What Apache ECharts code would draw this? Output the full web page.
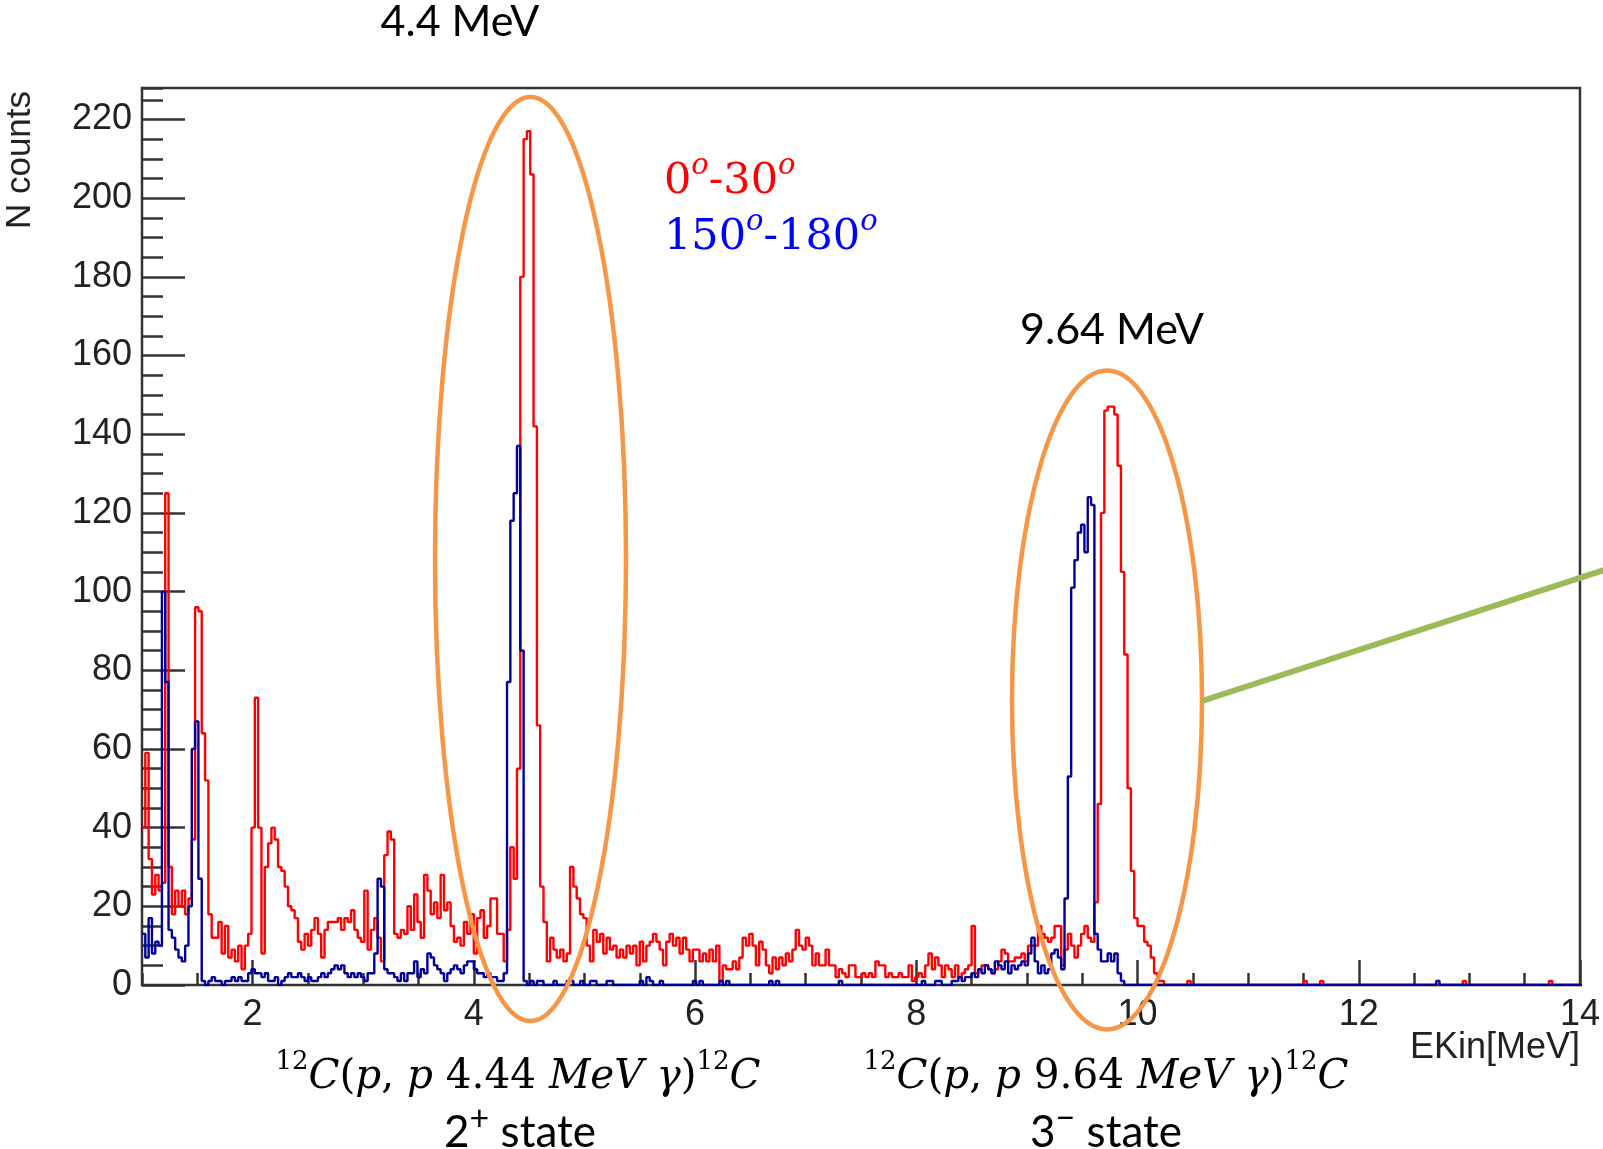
<!DOCTYPE html>
<html>
<head>
<meta charset="utf-8">
<script src="https://cdn.jsdelivr.net/npm/echarts@6/dist/echarts.min.js"></script>
<style>
html,body{margin:0;padding:0;background:#fff;}
#c{width:1603px;height:1149px;}
</style>
</head>
<body>
<div id="c"></div>
<script>
// Histogram binning (EKin in MeV)
const BIN_START = 1.0;
const BIN_WIDTH = 0.03;

// 0°-30° counts per bin (red)
const red0to30 = [
 40,59,32,23,28,24,26,125,30,18,
 24,20,24,18,22,37,96,95,64,52,
 18,12,12,16,8,15,7,9,6,10,
 4,10,13,40,73,40,8,30,36,40,
 37,30,29,25,20,19,17,11,9,13,
 10,14,17,13,7,14,16,16,16,17,
 14,17,16,19,14,12,11,24,9,14,
 17,12,6,33,39,37,13,12,14,13,
 20,14,23,16,12,28,24,18,21,17,
 28,19,21,15,11,12,10,16,13,18,
 8,17,19,12,15,22,22,13,13,6,
 14,35,27,55,180,215,217,206,142,66,
 25,16,6,12,9,7,9,6,8,30,
 25,22,18,17,10,6,14,11,13,8,
 12,9,10,7,9,7,10,8,10,5,
 11,6,10,11,13,11,9,5,11,13,
 10,12,8,12,9,6,9,9,6,8,
 6,9,6,10,1,5,4,4,6,4,
 7,12,10,13,10,5,11,9,5,3,
 7,4,7,5,8,6,9,14,10,9,
 12,10,5,8,5,5,9,5,5,2,
 4,3,2,5,5,2,2,3,2,3,
 2,6,5,5,2,3,2,2,3,2,
 2,5,1,2,3,2,5,8,4,7,
 5,2,5,4,2,5,2,3,4,5,
 15,3,4,5,5,4,3,4,6,9,
 8,6,6,7,7,8,6,10,10,10,
 15,13,12,11,12,15,15,5,9,13,
 10,7,10,13,15,12,11,21,46,120,
 146,147,147,145,132,105,84,50,29,17,
 15,15,11,10,7,3,1,1,0,0,
 0,0,0,0,0,1,0,0,0,0,
 0,0,0,0,0,0,0,0,0,0,
 0,0,0,0,0,0,0,0,0,0,
 0,0,0,0,0,0,0,0,0,0,
 1,0,0,0,0,1,0,0,0,0,
 0,0,0,0,0,0,0,0,0,0,
 0,0,0,0,0,0,0,0,0,0,
 0,0,0,0,0,0,0,0,0,0,
 0,0,0,0,0,0,0,0,1,0,
 0,0,0,0,0,0,0,0,0,0,
 0,0,0,0,0,0,0,0,0,0,
 0,0,0,0,1,0,0,0,0,0,
 0,0,0,0
];

// 150°-180° counts per bin (blue)
const blue150to180 = [
 13,7,17,8,11,10,100,77,14,12,
 9,7,6,10,20,60,67,27,1,0,
 1,2,1,1,0,1,1,2,1,2,
 1,1,3,4,3,3,2,3,1,1,
 2,0,1,2,3,2,2,3,2,1,
 2,1,1,2,3,2,3,4,5,4,
 5,3,2,3,2,3,2,1,3,3,
 8,27,25,4,3,3,2,1,3,1,
 3,3,6,2,4,3,8,7,5,4,
 3,1,3,4,5,4,3,5,6,6,
 4,3,3,2,3,2,2,1,1,3,
 77,118,125,137,85,1,0,1,0,1,
 1,0,0,0,1,0,0,0,1,1,
 0,0,1,0,0,1,1,0,0,0,
 1,1,0,0,0,0,0,0,0,0,
 1,0,2,1,0,0,1,0,0,0,
 0,0,0,0,0,0,1,0,1,0,
 0,0,0,0,1,0,1,0,0,0,
 0,0,0,0,0,0,0,0,0,1,
 0,1,0,0,0,0,0,0,0,0,
 0,0,0,0,0,0,0,0,0,0,
 1,0,0,0,0,0,0,0,0,0,
 0,0,0,0,0,0,0,0,0,0,
 0,0,0,0,0,1,0,0,0,1,
 1,0,0,0,1,1,2,1,2,2,
 3,2,4,3,5,4,3,6,5,4,
 6,3,5,4,5,6,5,8,12,6,
 3,5,3,4,8,9,7,4,22,53,
 101,108,115,117,110,124,122,13,9,6,
 6,8,6,8,3,1,0,0,0,0,
 0,0,0,0,0,0,0,0,0,0,
 0,0,0,0,0,0,0,0,0,0,
 0,0,0,0,0,0,0,0,0,0,
 0,0,0,0,0,0,0,0,0,0,
 0,0,0,0,0,0,0,0,0,0,
 0,0,0,0,0,0,0,0,0,0,
 0,0,0,0,0,0,0,0,0,0,
 0,0,0,0,0,0,0,0,0,0,
 0,0,0,0,0,0,0,0,0,0,
 1,0,0,0,0,0,0,0,0,0,
 0,0,0,0,0,0,0,0,0,0,
 0,0,0,0,0,0,0,0,0,0,
 0,0,0,0,0,0,0,0,0,0,
 0,0,0,0
];

// Axis tick labels
const xTickLabels = [2, 4, 6, 8, 10, 12, 14];
const yTickLabels = [0, 20, 40, 60, 80, 100, 120, 140, 160, 180, 200, 220];

function toSteps(vals) {
  const pts = vals.map((v, i) => [+(BIN_START + i * BIN_WIDTH).toFixed(4), v]);
  pts.push([+(BIN_START + vals.length * BIN_WIDTH).toFixed(4), vals[vals.length - 1]]);
  return pts;
}

const AX = '#333';
const ORANGE = '#F79646';
const GREEN = '#9BBB59';
const SERIF = 'DejaVu Serif';
const SANS = 'Lato';

function supRich(color, baseSize, supSize, family) {
  return {
    d: {fontFamily: family, fontSize: baseSize, fill: color, lineHeight: baseSize * 1.2, verticalAlign: 'bottom'},
    i: {fontFamily: family, fontStyle: 'italic', fontSize: baseSize, fill: color, lineHeight: baseSize * 1.2, verticalAlign: 'bottom'},
    s: {fontFamily: family, fontSize: supSize, fill: color, lineHeight: supSize * 1.1, verticalAlign: 'top'},
    si: {fontFamily: family, fontStyle: 'italic', fontSize: supSize, fill: color, lineHeight: supSize * 1.1, verticalAlign: 'top'}
  };
}

const chart = echarts.init(document.getElementById('c'), null, {renderer: 'canvas'});
chart.setOption({
  animation: false,
  backgroundColor: '#fff',
  grid: {left: 142, top: 88, right: 23, bottom: 164, show: true, borderColor: AX, borderWidth: 2.5, backgroundColor: 'transparent'},
  xAxis: [
    {
      type: 'value', min: 1, max: 14, position: 'bottom',
      axisLine: {show: false}, splitLine: {show: false},
      axisTick: {show: true, inside: true, length: 25, customValues: xTickLabels, lineStyle: {color: AX, width: 2.5}},
      axisLabel: {customValues: xTickLabels, fontSize: 36, fontFamily: 'Liberation Sans', color: '#222', margin: 12}
    },
    {
      type: 'value', min: 1, max: 14, interval: 0.5, position: 'bottom',
      axisLine: {show: false}, splitLine: {show: false},
      axisTick: {show: true, inside: true, length: 12, lineStyle: {color: AX, width: 2.5}},
      axisLabel: {show: false}
    }
  ],
  yAxis: [
    {
      type: 'value', min: 0, max: 228, position: 'left',
      axisLine: {show: false}, splitLine: {show: false},
      axisTick: {show: true, inside: true, length: 43, customValues: yTickLabels, lineStyle: {color: AX, width: 2.5}},
      axisLabel: {customValues: yTickLabels, fontSize: 36, fontFamily: 'Liberation Sans', color: '#222', margin: 10}
    },
    {
      type: 'value', min: 0, max: 228, interval: 5, position: 'left',
      axisLine: {show: false}, splitLine: {show: false},
      axisTick: {show: true, inside: true, length: 21, lineStyle: {color: AX, width: 2.5}},
      axisLabel: {show: false}
    }
  ],
  series: [
    {
      name: '0-30', type: 'line', step: 'end', xAxisIndex: 0, yAxisIndex: 0,
      data: toSteps(red0to30), showSymbol: false, symbol: 'none',
      lineStyle: {color: '#ff0000', width: 2.4}, z: 2
    },
    {
      name: '150-180', type: 'line', step: 'end', xAxisIndex: 0, yAxisIndex: 0,
      data: toSteps(blue150to180), showSymbol: false, symbol: 'none',
      lineStyle: {color: '#000099', width: 2.4}, z: 3
    }
  ],
  graphic: {elements: [
    {type: 'ellipse', z: 100, shape: {cx: 530.5, cy: 559, rx: 95.5, ry: 462}, style: {fill: 'none', stroke: ORANGE, lineWidth: 4.5}},
    {type: 'ellipse', z: 100, shape: {cx: 1107, cy: 700, rx: 95, ry: 329.5}, style: {fill: 'none', stroke: ORANGE, lineWidth: 4.5}},
    {type: 'line', z: 100, shape: {x1: 1202, y1: 701, x2: 1610, y2: 568}, style: {stroke: GREEN, lineWidth: 6}},
    {type: 'text', z: 100, x: 20, y: 160, rotation: Math.PI / 2,
      style: {text: 'N counts', fontFamily: 'Liberation Sans', fontSize: 35, fill: '#222', align: 'center', verticalAlign: 'middle', textAlign: 'center', textVerticalAlign: 'middle'}},
    {type: 'text', z: 100, x: 1580, y: 1048,
      style: {text: 'EKin[MeV]', fontFamily: 'Liberation Sans', fontSize: 36, fill: '#222', align: 'right', verticalAlign: 'middle', textAlign: 'right', textVerticalAlign: 'middle'}},
    {type: 'text', z: 100, x: 460, y: 22,
      style: {text: '4.4 MeV', fontFamily: SANS, fontSize: 43, fill: '#000', align: 'center', verticalAlign: 'middle', textAlign: 'center', textVerticalAlign: 'middle'}},
    {type: 'text', z: 100, x: 1112, y: 330,
      style: {text: '9.64 MeV', fontFamily: SANS, fontSize: 43, fill: '#000', align: 'center', verticalAlign: 'middle', textAlign: 'center', textVerticalAlign: 'middle'}},
    {type: 'text', z: 100, x: 664, y: 178,
      style: {text: '{d|0}{si|o}{d|-30}{si|o}', rich: supRich('#ff0000', 43, 29, SERIF), align: 'left', verticalAlign: 'middle', textAlign: 'left', textVerticalAlign: 'middle'}},
    {type: 'text', z: 100, x: 664, y: 234,
      style: {text: '{d|150}{si|o}{d|-180}{si|o}', rich: supRich('#0000ff', 43, 29, SERIF), align: 'left', verticalAlign: 'middle', textAlign: 'left', textVerticalAlign: 'middle'}},
    {type: 'text', z: 100, x: 518, y: 1074,
      style: {text: '{s|12}{i|C}{d|(}{i|p}{d|, }{i|p}{d| 4.44 }{i|MeV γ}{d|)}{s|12}{i|C}', rich: supRich('#000', 40.5, 26, SERIF), align: 'center', verticalAlign: 'middle', textAlign: 'center', textVerticalAlign: 'middle'}},
    {type: 'text', z: 100, x: 1106, y: 1074,
      style: {text: '{s|12}{i|C}{d|(}{i|p}{d|, }{i|p}{d| 9.64 }{i|MeV γ}{d|)}{s|12}{i|C}', rich: supRich('#000', 40.5, 26, SERIF), align: 'center', verticalAlign: 'middle', textAlign: 'center', textVerticalAlign: 'middle'}},
    {type: 'text', z: 100, x: 520, y: 1128,
      style: {text: '{d|2}{s|+}{d| state}', rich: supRich('#000', 44, 34, SANS), align: 'center', verticalAlign: 'middle', textAlign: 'center', textVerticalAlign: 'middle'}},
    {type: 'text', z: 100, x: 1106, y: 1128,
      style: {text: '{d|3}{s|\u2212}{d| state}', rich: supRich('#000', 44, 34, SANS), align: 'center', verticalAlign: 'middle', textAlign: 'center', textVerticalAlign: 'middle'}}
  ]}
});
</script>
</body>
</html>
